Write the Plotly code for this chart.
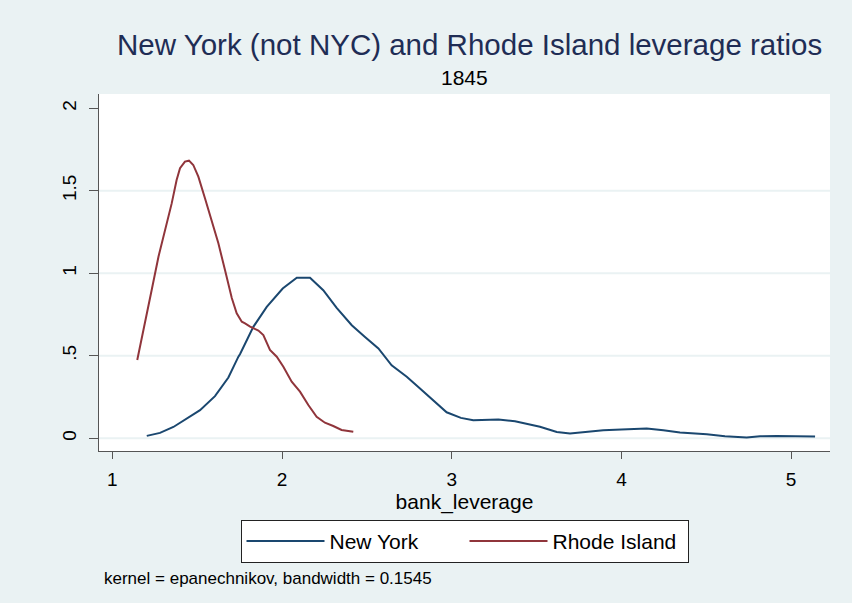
import plotly.graph_objects as go

# ---- data ----
ny_x = [1.203, 1.281, 1.360, 1.438, 1.517, 1.605, 1.664, 1.684, 1.743, 1.753,
        1.831, 1.910, 2.004, 2.087, 2.165, 2.243, 2.322, 2.411, 2.489, 2.568,
        2.646, 2.735, 2.813, 2.892, 2.970, 3.054, 3.127, 3.275, 3.373, 3.520,
        3.619, 3.697, 3.766, 3.893, 4.000, 4.149, 4.247, 4.345, 4.503, 4.610,
        4.738, 4.817, 4.915, 5.052, 5.141]
ny_y = [0.014, 0.032, 0.068, 0.119, 0.170, 0.255, 0.342, 0.368, 0.494, 0.510,
        0.675, 0.796, 0.907, 0.973, 0.973, 0.897, 0.790, 0.685, 0.614, 0.544,
        0.442, 0.372, 0.301, 0.230, 0.157, 0.123, 0.109, 0.113, 0.103, 0.069,
        0.038, 0.028, 0.034, 0.048, 0.052, 0.059, 0.048, 0.034, 0.024, 0.012,
        0.004, 0.012, 0.014, 0.014, 0.010]

ri_x = [1.147, 1.193, 1.232, 1.272, 1.321, 1.350, 1.379, 1.399, 1.428, 1.452,
        1.477, 1.507, 1.546, 1.586, 1.625, 1.664, 1.704, 1.733, 1.763, 1.782,
        1.812, 1.861, 1.890, 1.929, 1.969, 2.008, 2.057, 2.106, 2.155, 2.204,
        2.253, 2.302, 2.351, 2.420]
ri_y = [0.474, 0.716, 0.898, 1.100, 1.292, 1.423, 1.565, 1.636, 1.676, 1.682,
        1.656, 1.585, 1.454, 1.322, 1.181, 1.019, 0.850, 0.757, 0.706, 0.696,
        0.676, 0.652, 0.625, 0.535, 0.494, 0.433, 0.342, 0.282, 0.201, 0.130,
        0.094, 0.074, 0.050, 0.039]

x_ticks = [1, 2, 3, 4, 5]
x_tick_labels = ["1", "2", "3", "4", "5"]
y_ticks = [0, 0.5, 1, 1.5, 2]
y_tick_labels = ["0", ".5", "1", "1.5", "2"]
grid_y = [0, 0.5, 1, 1.5]

title_text = "New York (not NYC) and Rhode Island leverage ratios"
subtitle_text = "1845"
x_title = "bank_leverage"
note_text = "kernel = epanechnikov, bandwidth = 0.1545"

BG = "#EAF2F3"
BLUE = "#1A476F"
RED = "#90353B"
FONT = "Liberation Sans, Arial, sans-serif"

fig = go.Figure()
fig.add_trace(go.Scatter(x=ny_x, y=ny_y, mode="lines", name="New York",
                         line=dict(color=BLUE, width=2)))
fig.add_trace(go.Scatter(x=ri_x, y=ri_y, mode="lines", name="Rhode Island",
                         line=dict(color=RED, width=2)))

for g in grid_y:
    fig.add_shape(type="line", xref="paper", yref="y", x0=0, x1=1, y0=g, y1=g,
                  line=dict(color=BG, width=2), layer="below")

fig.update_layout(
    width=852, height=603,
    margin=dict(l=99, r=22, t=94, b=152),
    paper_bgcolor=BG, plot_bgcolor="white",
    font=dict(family=FONT, color="black"),
    title=dict(text=title_text, x=0.507, xref="paper", xanchor="center",
               y=1 - 45 / 603, yref="container", yanchor="middle",
               font=dict(size=29.5, color="#1F2D55", family=FONT)),
    xaxis=dict(range=[0.9216, 5.229], tickvals=x_ticks, ticktext=x_tick_labels,
               showgrid=False, zeroline=False, showline=True, linecolor="#555",
               linewidth=1.3, ticks="outside", ticklen=7, tickcolor="#555",
               tickwidth=1.3, tickfont=dict(size=19), ticklabelstandoff=4,
               title=dict(text=x_title, font=dict(size=21), standoff=0)),
    yaxis=dict(range=[-0.0776, 2.086], tickvals=y_ticks, ticktext=y_tick_labels,
               showgrid=False, zeroline=False, showline=True, linecolor="#555",
               linewidth=1.3, ticks="outside", ticklen=9, tickcolor="#555",
               tickwidth=1.3, tickfont=dict(size=19), tickangle=-90,
               ticklabelstandoff=5),
    legend=dict(orientation="h", x=0.5, xanchor="center", y=-0.193,
                yanchor="top", bgcolor="white", bordercolor="#222",
                borderwidth=1, font=dict(size=21), entrywidth=130,
                itemwidth=78),
    annotations=[
        dict(text=subtitle_text, xref="paper", yref="paper", x=0.5,
             y=(451 - 78) / 357, xanchor="center", yanchor="middle",
             showarrow=False, font=dict(size=21, color="black")),
        dict(text=note_text, xref="paper", yref="paper", x=0.004,
             y=(451 - 578) / 357, xanchor="left", yanchor="middle",
             showarrow=False, font=dict(size=17, color="black")),
    ],
)

fig.write_html("out.html")
